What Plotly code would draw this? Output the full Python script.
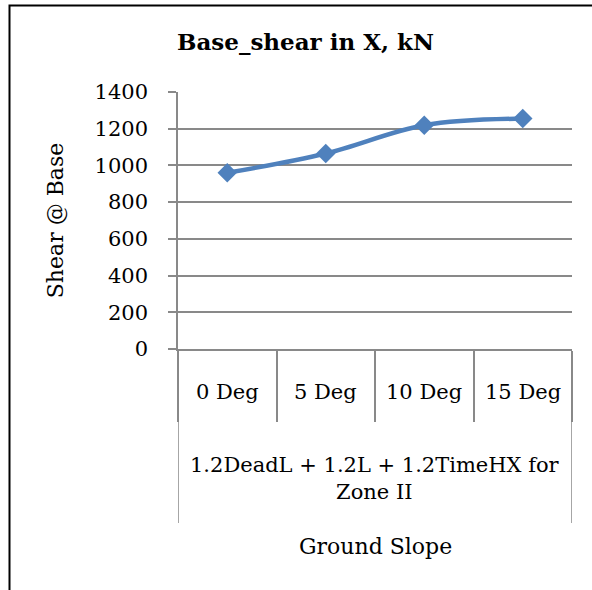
import plotly.graph_objects as go

# Data
categories = ["0 Deg", "5 Deg", "10 Deg", "15 Deg"]
shear_values = [960, 1065, 1219, 1255]
group_label = "1.2DeadL + 1.2L + 1.2TimeHX for<br>Zone II"
x_title = "Ground Slope"
y_title = "Shear @ Base"
chart_title = "Base_shear in X, kN"
y_ticks = [0, 200, 400, 600, 800, 1000, 1200, 1400]

FONT = "DejaVu Serif"
GRAY = "#898989"
BLUE = "#4F81BD"

W, H = 592, 590
L, R, T, B = 178, 20, 92, 241
PW, PH = W - L - R, H - T - B


def py(pixel_y):
    return (H - B - pixel_y) / PH


def px(pixel_x):
    return (pixel_x - L) / PW


fig = go.Figure()
fig.add_trace(go.Scatter(
    x=categories, y=shear_values, mode="lines+markers",
    line=dict(color=BLUE, width=4.5, shape="spline", smoothing=1),
    marker=dict(symbol="diamond", size=15, color=BLUE),
    showlegend=False, hoverinfo="skip",
))

annotations = []
for c in categories:
    annotations.append(dict(x=c, xref="x", y=py(391.5), yref="paper",
                            text=c, showarrow=False, xanchor="center", yanchor="middle",
                            font=dict(family=FONT, size=21, color="#000")))
annotations.append(dict(x=0.5, xref="paper", y=py(478), yref="paper",
                        text=group_label, showarrow=False, xanchor="center", yanchor="middle",
                        font=dict(family=FONT, size=21, color="#000")))
annotations.append(dict(x=0.5, xref="paper", y=py(546), yref="paper",
                        text=x_title, showarrow=False, xanchor="center", yanchor="middle",
                        font=dict(family=FONT, size=22, color="#000")))

shapes = []
# outer category boundaries extending through the group label
for xb in [-0.5, len(categories) - 0.5]:
    shapes.append(dict(type="line", xref="x", yref="paper", x0=xb, x1=xb,
                       y0=0, y1=py(523), line=dict(color=GRAY, width=1.5)))
# chart border
shapes.append(dict(type="rect", xref="paper", yref="paper",
                   x0=px(9.5), x1=px(640), y0=py(5.5), y1=py(640),
                   line=dict(color="#000", width=2), layer="above"))

fig.update_layout(
    width=W, height=H,
    margin=dict(l=L, r=R, t=T, b=B, autoexpand=False),
    paper_bgcolor="white", plot_bgcolor="white",
    font=dict(family=FONT, color="#000"),
    title=dict(text="<b>" + chart_title + "</b>", x=px(305.5), xref="paper", xanchor="center",
               y=1 - 42 / H, yref="container", yanchor="middle",
               font=dict(family=FONT, size=23, color="#000")),
    xaxis=dict(type="category", range=[-0.5, len(categories) - 0.5],
               showticklabels=False, ticks="outside", tickson="boundaries",
               ticklen=71, tickwidth=1.5, tickcolor=GRAY,
               showline=True, linecolor=GRAY, linewidth=1.5,
               showgrid=False, zeroline=False, fixedrange=True),
    yaxis=dict(range=[0, 1400], tickvals=y_ticks, ticks="outside", ticklen=8,
               tickwidth=1.5, tickcolor=GRAY, ticklabelstandoff=16,
               showline=True, linecolor=GRAY, linewidth=1.5,
               showgrid=True, gridcolor=GRAY, gridwidth=1.5, zeroline=False,
               tickfont=dict(family=FONT, size=21, color="#000"),
               title=dict(text=y_title, standoff=25,
                          font=dict(family=FONT, size=22, color="#000")),
               automargin=False, fixedrange=True),
    annotations=annotations, shapes=shapes,
)

fig.write_html("out.html", config={"displayModeBar": False})
